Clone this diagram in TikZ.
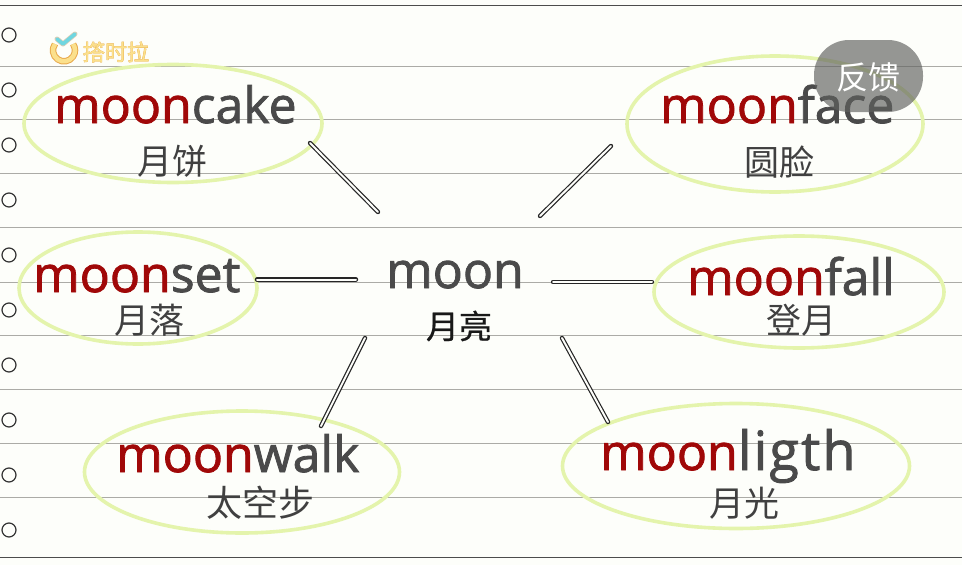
\documentclass[tikz,border=0pt]{standalone}
\usepackage{fontspec}
\setmainfont{Open Sans}[FakeBold=1.6]
\newfontfamily\cjk{Noto Sans CJK SC}
\newfontfamily\cjkb{Noto Sans CJK SC}[FakeBold=0.6]
\newfontfamily\cjkl{Noto Sans CJK SC}[FakeBold=2.5]
\definecolor{paper}{HTML}{FDFEFA}
\definecolor{rulec}{HTML}{ABABA6}
\definecolor{redw}{HTML}{A00808}
\definecolor{grayw}{HTML}{4A4A4A}
\definecolor{ringc}{HTML}{E4F4AC}
\definecolor{logof}{HTML}{FBE08C}
\definecolor{logoe}{HTML}{E8A94C}
\definecolor{logoc}{HTML}{6FD6E0}
\tikzset{
  x=1pt,y=-1pt,
  rulel/.style={draw=rulec,line width=1pt},
  rulet/.style={draw=black!70,line width=1pt},
  hole/.style={circle,draw=black!80,line width=1.2pt,minimum size=14pt,inner sep=0pt,fill=paper},
  ring/.style={ellipse,draw=ringc,line width=3.6pt,inner sep=0pt},
  word/.style={anchor=base west,inner sep=0pt,font=\fontsize{50pt}{50pt}\selectfont,text=grayw},
  gloss/.style={inner sep=0pt,font=\cjk\fontsize{35pt}{35pt}\selectfont,text=black!75},
  link/.style={draw=black!85,line width=4.4pt,line cap=round},
  linkin/.style={draw=paper,line width=2pt,line cap=round},
}
\newcommand{\linkto}[2]{\draw[link] (#1) -- (#2); \draw[linkin] (#1) -- (#2);}
\usetikzlibrary{shapes.geometric}
\begin{document}
\begin{tikzpicture}
\useasboundingbox (0,0) rectangle (962,565);
\fill[paper] (0,0) rectangle (962,565);
\foreach \y in {66,119,173,227,282,335,389,443,497} \draw[rulel] (0,\y) -- (962,\y);
\draw[rulet] (0,5) -- (962,5);
\draw[rulet] (0,557) -- (962,557);
\foreach \y [count=\i] in {35,90,145,200,255,310,365,420,475,530} \node[hole] (h\i) at (9,\y) {};
% logo
\draw[logoe,line width=6.5pt] (55,44) arc[start angle=215,end angle=-35,radius=11];
\draw[logof,line width=4.5pt] (55,44) arc[start angle=215,end angle=-35,radius=11];
\draw[logoe!70!black,line width=5pt,line join=round,line cap=round,opacity=.35] (57,39) -- (63,44) -- (75,34);
\draw[logoc,line width=3.6pt,line cap=round,line join=round] (57,39) -- (63,44) -- (75,34);
\node[inner sep=0pt,text=logoe,font=\cjkl\fontsize{22pt}{22pt}\selectfont] (logoa) at (116,52) {撘时拉};
\node[inner sep=0pt,text=logof,font=\cjkb\fontsize{22pt}{22pt}\selectfont] (logo) at (116,52) {撘时拉};
% rings
\node[ring,minimum width=298pt,minimum height=118pt] (r1) at (173,123.5) {};
\node[ring,minimum width=296pt,minimum height=136pt] (r2) at (775,124) {};
\node[ring,minimum width=238pt,minimum height=112pt] (r3) at (138,288) {};
\node[ring,minimum width=290pt,minimum height=112pt] (r4) at (799,292) {};
\node[ring,minimum width=315pt,minimum height=122pt] (r5) at (242,472) {};
\node[ring,minimum width=347pt,minimum height=125pt] (r6) at (736,466) {};
% words
\node[word] (w1) at (54,123) {\textcolor{redw}{moon}cake};
\node[word] (w2) at (660,123) {\textcolor{redw}{moon}face};
\node[word] (w3) at (33,292) {\textcolor{redw}{moon}set};
\node[word] (w4) at (687,295) {\textcolor{redw}{moon}fall};
\node[word] (w5) at (116,472) {\textcolor{redw}{moon}walk};
\node[word] (w6) at (600,470) {\textcolor{redw}{moon}{\fontsize{54pt}{54pt}\selectfont\addfontfeature{LetterSpace=4}ligth}};
\node[word] (w0) at (386,288) {moon};
% glosses
\node[gloss] (g1) at (172,161) {月饼};
\node[gloss] (g2) at (779,162) {圆脸};
\node[gloss] (g3) at (149,320) {月落};
\node[gloss] (g4) at (801,320) {登月};
\node[gloss,font=\cjk\fontsize{36pt}{36pt}\selectfont] (g5) at (260,503) {太空步};
\node[gloss] (g6) at (744,503) {月光};
\node[gloss,text=black!90,font=\cjkb\fontsize{33pt}{33pt}\selectfont] (g0) at (459,326) {月亮};
% connectors
\coordinate (a1) at (310,143); \coordinate (b1) at (378,212);
\coordinate (a2) at (611,146); \coordinate (b2) at (540,216);
\coordinate (a3) at (257,279.5); \coordinate (b3) at (356,279.5);
\coordinate (a4) at (652,282); \coordinate (b4) at (553,282);
\coordinate (a5) at (321,426); \coordinate (b5) at (365,338);
\coordinate (a6) at (608,422); \coordinate (b6) at (562,338);
\linkto{a1}{b1}
\linkto{a2}{b2}
\linkto{a3}{b3}
\linkto{a4}{b4}
\linkto{a5}{b5}
\linkto{a6}{b6}
% feedback pill
\node[rounded corners=35pt,fill=black!62!paper,fill opacity=.66,minimum width=109pt,minimum height=72pt,inner sep=0pt] (pill) at (868.5,76) {};
\node[inner sep=0pt,text=white,font=\cjk\fontsize{32pt}{32pt}\selectfont] (fb) at (868,77) {反馈};
\end{tikzpicture}
\end{document}
